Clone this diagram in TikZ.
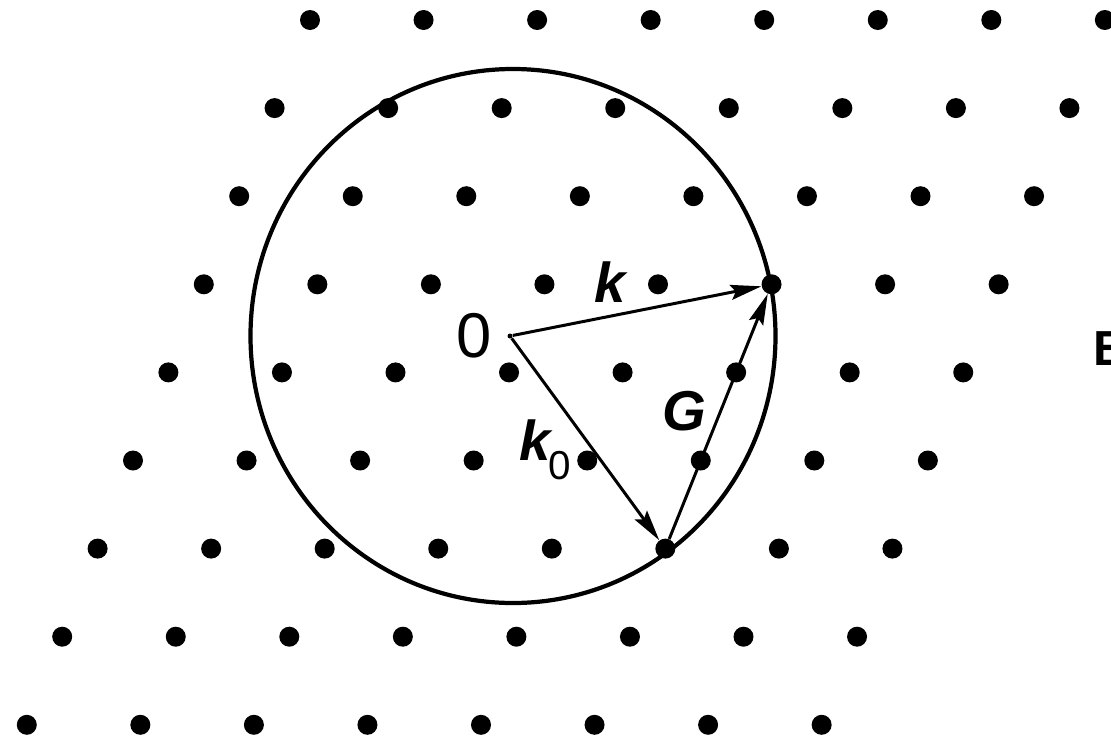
\documentclass[tikz,border=0pt]{standalone}
\usepackage{fontspec}
\setmainfont{Liberation Sans}
\usetikzlibrary{arrows.meta, positioning}

\tikzset{
	dot/.style = {circle, fill = black, inner sep = 0pt, minimum size = 0.4cm},
	orig/.style = {circle, fill = black, inner sep = 0pt, minimum size = 0.1cm},
	vec/.style = {line width = 1.7pt, -{Stealth[length = 0.62cm, width = 0.3cm, inset = 0.1cm]}},
	lbl/.style = {inner sep = 0pt, font = \fontsize{32}{34}\selectfont\bfseries\itshape}
}

\begin{document}
\begin{tikzpicture}
	\useasboundingbox (0,0) rectangle (22.22,-14.86);
	\clip (0,0) rectangle (22.22,-14.86);
	\foreach \r in {0,...,8}
		\foreach \i in {0,...,7}
			\node [dot] (p-\i-\r) at ({6.2 + 2.271*\i - 0.708*\r},{-0.4 - 1.762*\r}) {};
	\coordinate (c) at (10.26,-6.72);
	\draw [line width = 2.4pt] (c) ellipse (5.25 and 5.34);
	\node [orig] (O) at (10.2,-6.72) {};
	\node [inner sep = 0pt, left = 0.3cm of O, font = \fontsize{36}{40}\selectfont] (zero) {0};
	\draw [vec] (O) -- (p-5-3);
	\draw [vec] (O) -- (p-5-6);
	\draw [vec] (p-5-6) -- (p-5-3);
	\node [lbl] (k) at (12.2,-5.64) {k};
	\node [lbl, anchor = base west] (k0) at (10.38,-9.2) {k\kern-1pt\raisebox{-11pt}{\fontsize{23}{23}\selectfont\mdseries\upshape 0}};
	\node [lbl] (G) at (13.68,-8.22) {G};
	\node [inner sep = 0pt, anchor = base west, font = \fontsize{28}{30}\selectfont\bfseries] (B) at (21.86,-7.3) {B};
%	\draw [dashed] (c) -- (p-5-3);
\end{tikzpicture}
\end{document}
